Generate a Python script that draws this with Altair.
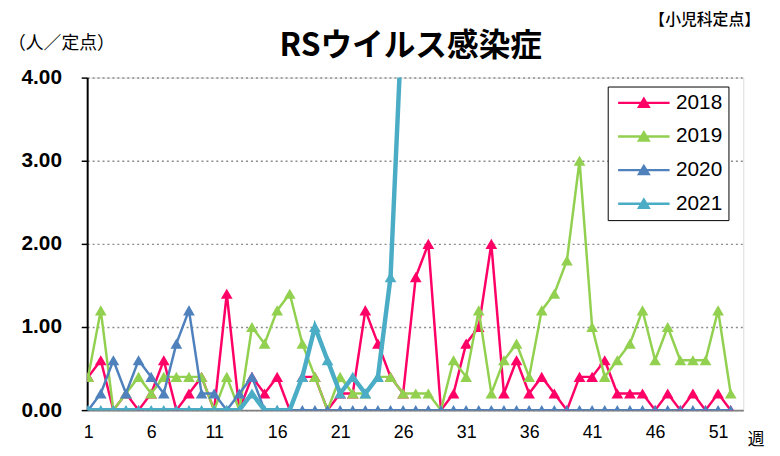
import altair as alt
import pandas as pd

weeks = list(range(1, 53))
years = ["2018", "2019", "2020", "2021"]
colors = ["#FF0066", "#92D050", "#4F81BD", "#4BACC6"]

v2018 = [0.4, 0.6, 0, 0.2, 0, 0.2, 0.6, 0, 0.2, 0.4,
         0, 1.4, 0, 0.4, 0.2, 0.4, 0, 0.4, 0.4, 0,
         0.2, 0.2, 1.2, 0.8, 0.4, 0.2, 1.6, 2.0, 0, 0.2,
         0.8, 1.0, 2.0, 0.2, 0.6, 0.2, 0.4, 0.2, 0, 0.4,
         0.4, 0.6, 0.2, 0.2, 0.2, 0, 0.2, 0, 0.2, 0,
         0.2, 0]
v2019 = [0.4, 1.2, 0, 0.2, 0.4, 0.2, 0.4, 0.4, 0.4, 0.4,
         0, 0.4, 0, 1.0, 0.8, 1.2, 1.4, 0.8, 0.4, 0,
         0.4, 0.2, 0.2, 0.4, 0.4, 0.2, 0.2, 0.2, 0, 0.6,
         0.4, 1.2, 0.2, 0.6, 0.8, 0.4, 1.2, 1.4, 1.8, 3.0,
         1.0, 0.4, 0.6, 0.8, 1.2, 0.6, 1.0, 0.6, 0.6, 0.6,
         1.2, 0.2]
v2020 = [0, 0.2, 0.6, 0.2, 0.6, 0.4, 0.2, 0.8, 1.2, 0.2,
         0.2, 0, 0.2, 0.4, 0, 0, 0, 0, 0, 0,
         0, 0, 0, 0, 0, 0, 0, 0, 0, 0,
         0, 0, 0, 0, 0, 0, 0, 0, 0, 0,
         0, 0, 0, 0, 0, 0, 0, 0, 0, 0,
         0, 0]
v2021 = [0, 0, 0, 0, 0, 0, 0, 0, 0, 0,
         0, 0, 0, 0.2, 0, 0, 0, 0.4, 1.0, 0.6,
         0.2, 0.4, 0.2, 0.4, 1.6, 5.0]

x_ticks = [1, 6, 11, 16, 21, 26, 31, 36, 41, 46, 51]
y_ticks = [0, 1, 2, 3, 4]

rows = []
for yr, vals in zip(years, [v2018, v2019, v2020, v2021]):
    for w, v in zip(weeks, vals):
        rows.append({"week": w, "value": v, "year": yr})
df = pd.DataFrame(rows)

NUM_FONT = "Liberation Sans"
JP_FONT = "Noto Sans CJK JP"

x = alt.X("week:Q",
          scale=alt.Scale(domain=[0.92, 53.0], nice=False, zero=False),
          axis=alt.Axis(values=x_ticks, title=None, ticks=False, grid=False,
                        labelFontSize=18, labelFont=NUM_FONT, labelColor="black",
                        labelPadding=14, domainColor="#808080", domainWidth=2,
                        labelFlush=False))
y = alt.Y("value:Q",
          scale=alt.Scale(domain=[0, 4], nice=False),
          axis=alt.Axis(values=y_ticks, format=".2f", title=None, tickSize=6,
                        tickColor="black", tickWidth=1.5,
                        labelFontSize=21, labelFont=NUM_FONT, labelFontWeight="bold",
                        labelColor="black", labelPadding=20,
                        gridDash=[2, 3], gridColor="#8c8c8c", gridWidth=1.5,
                        domainColor="black", domainWidth=2))

legend_path = ("M-2.6,-0.12L2.6,-0.12L2.6,0.12L-2.6,0.12Z "
               "M0,-0.65L0.7,0.52L-0.7,0.52Z")

color_leg = alt.Color("year:N", scale=alt.Scale(domain=years, range=colors),
                      legend=alt.Legend(title=None, orient="none",
                                        legendX=526, legendY=9,
                                        symbolType=legend_path, symbolSize=400,
                                        symbolStrokeWidth=0, symbolOpacity=1,
                                        symbolOffset=20, labelOffset=22,
                                        labelFontSize=21, labelFont=NUM_FONT,
                                        labelColor="black",
                                        rowPadding=12, padding=6,
                                        strokeColor="black", fillColor="white"))

layers = []
for yr, col in zip(years, colors):
    sw = 4.5 if yr == "2021" else 2.5
    base = alt.Chart(df).transform_filter(alt.datum.year == yr)
    layers.append(base.mark_line(strokeWidth=sw, clip=True, color=col).encode(
        x=x, y=y))
    layers.append(base.mark_point(shape="triangle-up", filled=True, size=140,
                                  opacity=1, clip=True).encode(
        x=x, y=y, color=color_leg))

ann = pd.DataFrame({"d": [0]})
title = alt.Chart(ann).mark_text(text="RSウイルス感染症", font=JP_FONT, fontSize=32,
                                 fontWeight="bold", align="center", baseline="middle",
                                 color="black").encode(
    x=alt.value(327), y=alt.value(-32))
unit = alt.Chart(ann).mark_text(text="（人／定点）", font=JP_FONT, fontSize=18,
                                align="left", baseline="middle", color="black").encode(
    x=alt.value(-80), y=alt.value(-34))
src = alt.Chart(ann).mark_text(text="【小児科定点】", font=JP_FONT, fontSize=16,
                               fontWeight=500, align="right", baseline="middle",
                               color="black").encode(
    x=alt.value(680), y=alt.value(-58))
wk = alt.Chart(ann).mark_text(text="週", font=JP_FONT, fontSize=17,
                              align="center", baseline="middle", color="black").encode(
    x=alt.value(676), y=alt.value(30 + 336))

chart = alt.layer(*layers, title, unit, src, wk).properties(
    width=663, height=336,
    autosize=alt.AutoSizeParams(type="none"),
    padding={"left": 80, "top": 68, "right": 29, "bottom": 44},
).configure_view(stroke="black", strokeWidth=1.5).configure(background="white")

chart.save("out.html", embed_options={"renderer": "svg", "actions": False})
